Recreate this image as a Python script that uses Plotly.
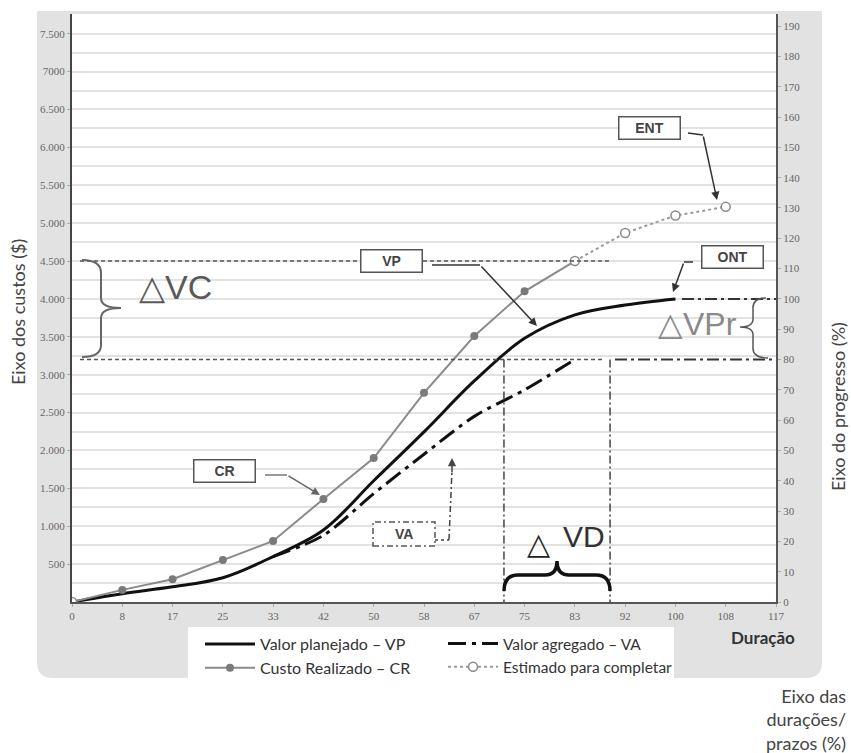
import plotly.graph_objects as go

# ---------------- data ----------------
x_pct_labels = ["0", "8", "17", "25", "33", "42", "50", "58", "67", "75", "83", "92", "100", "108", "117"]
x_idx = list(range(len(x_pct_labels)))

vp_x = list(range(13))
vp = [0, 110, 200, 320, 600, 950, 1600, 2245, 2917, 3480, 3790, 3920, 4000]

va_x = list(range(4, 11))
va = [600, 880, 1430, 1950, 2450, 2800, 3200]

cr_x = list(range(11))
cr = [0, 160, 300, 555, 805, 1360, 1900, 2760, 3510, 4100, 4500]

etc_x = [10, 11, 12, 13]
etc = [4500, 4870, 5100, 5215]

cost_ticks = [500, 1000, 1500, 2000, 2500, 3000, 3500, 4000, 4500, 5000, 5500, 6000, 6500, 7000, 7500]
cost_labels = ["500", "1.000", "1.500", "2.000", "2.500", "3.000", "3.500", "4.000", "4.500",
               "5.000", "5.500", "6.000", "6.500", "7000", "7.500"]
prog_ticks = list(range(0, 200, 10))

VC_TOP = 4500
VC_BOTTOM = 3200
ONT_VALUE = 4000
VD_START = 8.59
VD_END = 10.7
Y_MAX = 7760
PROG_PER_COST = 1 / 40.0

# ---------------- layout geometry helpers (decoration only) ----------------
W, H = 851, 753
ML, MR, MT, MB = 72, 75, 14, 151
PW, PH = W - ML - MR, H - MT - MB
X_MAX = 14


def dx(px):
    return (px - ML) * X_MAX / PW


def dy(py):
    return (MT + PH - py) * Y_MAX / PH


def fx(px):
    return (px - ML) / PW


def fy(py):
    return (MT + PH - py) / PH


fig = go.Figure()

fig.add_trace(go.Scatter(x=vp_x, y=vp, mode="lines", name="Valor planejado – VP",
                         line=dict(color="#111", width=3, shape="spline", smoothing=1.0),
                         legend="legend"))
fig.add_trace(go.Scatter(x=va_x, y=va, mode="lines", name="Valor agregado – VA",
                         line=dict(color="#111", width=3, dash="18px,6px,4px,6px",
                                   shape="spline", smoothing=0.8),
                         legend="legend2"))
fig.add_trace(go.Scatter(x=cr_x, y=cr, mode="lines+markers", name="Custo Realizado – CR",
                         line=dict(color="#8a8a8a", width=2),
                         marker=dict(color="#7a7a7a", size=8),
                         legend="legend"))
fig.add_trace(go.Scatter(x=etc_x, y=etc, mode="lines+markers", name="Estimado para completar",
                         line=dict(color="#9a9a9a", width=2, dash="dot"),
                         marker=dict(color="white", size=9, symbol="circle",
                                     line=dict(color="#8a8a8a", width=1.5)),
                         legend="legend2"))
fig.add_trace(go.Scatter(x=cr_x[:1], y=cr[:1], mode="markers", showlegend=False,
                         marker=dict(color="white", size=9, line=dict(color="#8a8a8a", width=1.5))))
# invisible trace on right axis to activate it
fig.add_trace(go.Scatter(x=[0], y=[0], yaxis="y2", mode="markers", showlegend=False,
                         marker=dict(opacity=0), hoverinfo="skip"))

shapes = []

# textured background area (flat grey) with rounded bottom corners
x0, x1 = fx(37), fx(822)
y0, y1 = fy(678), fy(11)
rx, ry = 16 / PW, 16 / PH
tex_path = (f"M {x0},{y1} L {x1},{y1} L {x1},{y0+ry} Q {x1},{y0} {x1-rx},{y0} "
            f"L {x0+rx},{y0} Q {x0},{y0} {x0},{y0+ry} Z")
shapes.append(dict(type="path", xref="paper", yref="paper", path=tex_path,
                   fillcolor="#e2e2e2", line=dict(width=0), layer="below"))
shapes.append(dict(type="rect", xref="paper", yref="paper", x0=0, x1=1, y0=0, y1=1,
                   fillcolor="white", line=dict(width=0), layer="below"))
# legend white box
shapes.append(dict(type="rect", xref="paper", yref="paper", x0=fx(188), x1=fx(674),
                   y0=fy(678), y1=fy(627), fillcolor="white", line=dict(width=0), layer="below"))

ref_dash = dict(color="#555", width=1.5, dash="4px,3px")
dashdot = dict(color="#333", width=2, dash="12px,4px,3px,4px")
vdash = dict(color="#444", width=1.5, dash="8px,3px,2px,3px")

shapes.append(dict(type="line", x0=dx(80), x1=dx(610), y0=VC_TOP, y1=VC_TOP, line=ref_dash))
shapes.append(dict(type="line", x0=dx(80), x1=dx(603), y0=VC_BOTTOM, y1=VC_BOTTOM, line=ref_dash))
shapes.append(dict(type="line", x0=dx(615), x1=X_MAX, y0=VC_BOTTOM, y1=VC_BOTTOM, line=dashdot))
shapes.append(dict(type="line", x0=dx(682), x1=X_MAX, y0=ONT_VALUE, y1=ONT_VALUE, line=dashdot))
shapes.append(dict(type="line", x0=VD_START, x1=VD_START, y0=VC_BOTTOM, y1=0, line=vdash))
shapes.append(dict(type="line", x0=VD_END, x1=VD_END, y0=VC_BOTTOM, y1=0, line=vdash))


def path_px(pts):
    out = []
    for cmd, coords in pts:
        c = " ".join(f"{dx(a):.4f},{dy(b):.2f}" for a, b in coords)
        out.append(f"{cmd} {c}")
    return " ".join(out)


# brace for VC
vc_brace = path_px([("M", [(82, 260)]), ("Q", [(101, 260), (101, 273)]), ("L", [(101, 298)]),
                    ("Q", [(101, 308), (121, 308)]), ("Q", [(101, 308), (101, 318)]),
                    ("L", [(101, 345)]), ("Q", [(101, 357), (82, 357)])])
shapes.append(dict(type="path", path=vc_brace, line=dict(color="#666", width=2)))
# brace for VPr
vpr_brace = path_px([("M", [(766, 298)]), ("Q", [(753, 298), (753, 308)]), ("L", [(753, 319)]),
                     ("Q", [(753, 327), (740, 327)]), ("Q", [(753, 327), (753, 335)]),
                     ("L", [(753, 348)]), ("Q", [(753, 358), (768, 358)])])
shapes.append(dict(type="path", path=vpr_brace, line=dict(color="#555", width=1.5)))
# brace for VD
vd_brace = path_px([("M", [(504, 591)]), ("Q", [(504, 575), (518, 575)]), ("L", [(545, 575)]),
                    ("Q", [(557, 575), (557, 561)]), ("Q", [(557, 575), (569, 575)]),
                    ("L", [(596, 575)]), ("Q", [(610, 575), (610, 591)])])
shapes.append(dict(type="path", path=vd_brace, line=dict(color="#111", width=3.5)))

# arrow first segments
seg = dict(color="#333", width=1.5)
shapes.append(dict(type="line", x0=dx(432), x1=dx(480), y0=dy(265), y1=dy(265), line=seg))
shapes.append(dict(type="line", x0=dx(265), x1=dx(287), y0=dy(475), y1=dy(475),
                   line=dict(color="#777", width=1.5)))
shapes.append(dict(type="line", x0=dx(688), x1=dx(703), y0=dy(133), y1=dy(135), line=seg))
shapes.append(dict(type="line", x0=dx(693), x1=dx(684), y0=dy(262), y1=dy(262), line=seg))
# VA dashed box and arrow line
shapes.append(dict(type="rect", x0=dx(373), x1=dx(435), y0=dy(546), y1=dy(522),
                   fillcolor="white", line=dict(color="#555", width=1.5, dash="6px,3px,2px,3px")))
shapes.append(dict(type="line", x0=dx(449), x1=dx(452), y0=dy(540), y1=dy(470),
                   line=dict(color="#444", width=1.5, dash="6px,3px,2px,3px")))
shapes.append(dict(type="line", x0=dx(435), x1=dx(449), y0=dy(540), y1=dy(540),
                   line=dict(color="#444", width=1.5, dash="3px,3px")))

annotations = []


def box_label(text, xc, yc, w=56, h=17):
    annotations.append(dict(x=dx(xc), y=dy(yc), text=f"<b>{text}</b>", showarrow=False,
                            font=dict(family="Liberation Sans", size=14, color="#444"),
                            bgcolor="white", bordercolor="#555", borderwidth=1.5, borderpad=2,
                            width=w, height=h, align="center"))


box_label("VP", 391, 261)
box_label("CR", 224, 471)
box_label("ENT", 649, 128)
box_label("ONT", 732, 257)
annotations.append(dict(x=dx(404), y=dy(534), text="<b>VA</b>", showarrow=False,
                        font=dict(family="Liberation Sans", size=14, color="#444")))


def arrow(tail, head, color="#333"):
    annotations.append(dict(x=dx(head[0]), y=dy(head[1]), ax=tail[0] - head[0], ay=tail[1] - head[1],
                            text="", showarrow=True, arrowhead=2, arrowsize=1.1, arrowwidth=1.5,
                            arrowcolor=color, standoff=0, startstandoff=0))


arrow((480, 265), (537, 326))
arrow((287, 475), (320, 495), color="#666")
arrow((703, 135), (717, 200))
arrow((684, 262), (673, 292))
arrow((452, 474), (452, 458), color="#444")

annotations.append(dict(x=dx(175), y=dy(287), text="△VC", showarrow=False,
                        font=dict(family="Liberation Sans", size=34, color="#5a5a5a")))
annotations.append(dict(x=dx(697), y=dy(324), text="△VPr", showarrow=False,
                        font=dict(family="Liberation Sans", size=32, color="#8a8a8a")))
annotations.append(dict(x=dx(538), y=dy(543), text="△", showarrow=False,
                        font=dict(family="DejaVu Sans", size=30, color="#222")))
annotations.append(dict(x=dx(584), y=dy(536), text="VD", showarrow=False,
                        font=dict(family="Liberation Sans", size=30, color="#333")))

annotations.append(dict(xref="paper", yref="paper", x=fx(18), y=fy(312), xanchor="center",
                        yanchor="middle", text="Eixo dos custos ($)",
                        textangle=-90, showarrow=False,
                        font=dict(family="Lato", size=18, color="#444")))
annotations.append(dict(xref="paper", yref="paper", x=fx(838), y=fy(407), xanchor="center",
                        yanchor="middle", text="Eixo do progresso (%)",
                        textangle=-90, showarrow=False,
                        font=dict(family="Lato", size=18, color="#444")))
annotations.append(dict(xref="paper", yref="paper", x=fx(848), y=fy(719), xanchor="right",
                        yanchor="middle", text="Eixo das<br>durações/<br>prazos (%)", align="right",
                        showarrow=False, font=dict(family="Lato", size=18, color="#444")))
annotations.append(dict(xref="paper", yref="paper", x=fx(763), y=fy(637), xanchor="center",
                        yanchor="middle", text="<b>Duração</b>",
                        showarrow=False, font=dict(family="Lato", size=17, color="#333")))

tick_font = dict(family="Liberation Serif", size=11, color="#666")

fig.update_layout(
    width=W, height=H,
    margin=dict(l=ML, r=MR, t=MT, b=MB, pad=0),
    paper_bgcolor="white", plot_bgcolor="white",
    shapes=shapes, annotations=annotations,
    xaxis=dict(range=[0, X_MAX], tickmode="array", tickvals=x_idx, ticktext=x_pct_labels,
               showgrid=False, zeroline=False, showline=True, linecolor="#555", linewidth=2,
               ticks="outside", ticklen=3, tickcolor="#aaa", tickfont=tick_font, fixedrange=True),
    yaxis=dict(range=[0, Y_MAX], tickmode="array", tickvals=cost_ticks, ticktext=cost_labels,
               showgrid=True, gridcolor="#e2e2e2", gridwidth=1.5, zeroline=False,
               minor=dict(dtick=250, tick0=0, showgrid=True, gridcolor="#e2e2e2", gridwidth=1.5),
               showline=True, linecolor="#444", linewidth=2, ticks="outside", ticklen=3,
               tickcolor="#aaa", tickfont=tick_font),
    yaxis2=dict(range=[0, Y_MAX * PROG_PER_COST], overlaying="y", side="right", tickmode="array",
                tickvals=prog_ticks, showgrid=False, zeroline=False, showline=True,
                linecolor="#555", linewidth=2, ticks="outside", ticklen=3, tickcolor="#aaa",
                tickfont=tick_font),
    legend=dict(x=fx(200), y=fy(627), xanchor="left", yanchor="top", bgcolor="rgba(0,0,0,0)",
                font=dict(family="Lato", size=16, color="#333"), itemwidth=50, tracegroupgap=0),
    legend2=dict(x=fx(443), y=fy(627), xanchor="left", yanchor="top", bgcolor="rgba(0,0,0,0)",
                 font=dict(family="Lato", size=15.5, color="#333"), itemwidth=50, tracegroupgap=0),
    showlegend=True,
)

fig.write_html("out.html")
